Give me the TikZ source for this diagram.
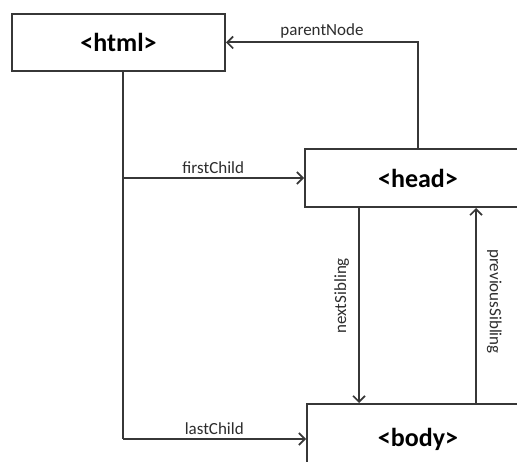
\documentclass[tikz,border=0pt]{standalone}
\usepackage{fontspec}
\setmainfont{Carlito}
\usetikzlibrary{arrows.meta, positioning}
\definecolor{linegray}{RGB}{55,55,55}
\definecolor{labelgray}{RGB}{45,45,45}

\begin{document}
\begin{tikzpicture}[x=1pt, y=-1pt,
    tagbox/.style={draw=linegray, line width=2pt, fill=white, font=\fontsize{26}{30}\selectfont\bfseries},
    link/.style={draw=linegray, line width=2pt},
    ptr/.style={link, -{Straight Barb[length=6pt,width=12pt,line width=1.6pt]}},
    lbl/.style={font=\fontsize{17}{20}\selectfont, text=labelgray, inner sep=3pt}]
    \clip (0,0) rectangle (517,462);
    \fill[white] (0,0) rectangle (517,462);

    % element boxes
    \node[tagbox, minimum width=213pt, minimum height=57pt] (html) at (118.5,42.5) {<html>};
    \node[tagbox, minimum width=226pt, minimum height=58pt] (head) at (418,178) {<head>};
    \node[tagbox, minimum width=222pt, minimum height=70pt] (body) at (418,439) {<body>};

    % child links
    \coordinate (trunk) at ([xshift=4pt]html.south);
    \draw[link] (trunk) -- (trunk |- body.west);
    \draw[ptr] (trunk |- head.west) -- (head.west) node[lbl, midway, above] {firstChild};
    \draw[ptr] (trunk |- body.west) -- (body.west) node[lbl, midway, above] {lastChild};

    % parent link
    \draw[ptr] (head.north) |- (html.east) node[lbl, pos=0.75, above] {parentNode};

    % sibling links
    \draw[ptr] ([xshift=-59pt]head.south) -- ([xshift=-59pt]head.south |- body.north)
        node[lbl, pos=0.45, rotate=90, anchor=south, inner sep=9pt] {nextSibling};
    \draw[ptr] ([xshift=58pt]head.south |- body.north) -- ([xshift=58pt]head.south)
        node[lbl, pos=0.52, rotate=-90, anchor=south, inner sep=10pt] {previousSibling};
\end{tikzpicture}
\end{document}
